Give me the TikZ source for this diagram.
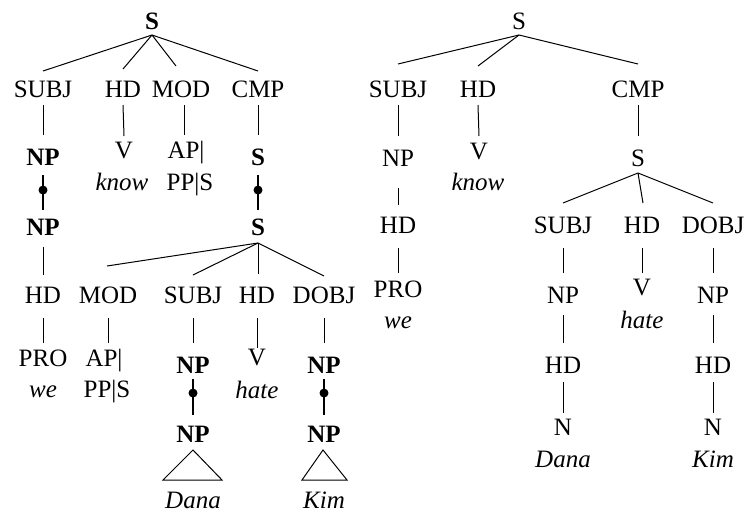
\documentclass[tikz,border=0pt]{standalone}
\usepackage{fontspec}
\setmainfont{Liberation Serif}
\newcommand\fsz{\fontsize{25}{30}\selectfont}
\newcommand\tedge[4]{\draw[br] ([yshift=-#2pt]#1.base) -- ([yshift=#4pt]#3.base);}
\newcommand\sedge[6]{\draw[br] ([xshift=#2pt,yshift=-#3pt]#1.base) -- ([xshift=#5pt,yshift=#6pt]#4.base);}
\newcommand\kedge[5]{\draw[thk] ([yshift=-#2pt]#1.base) -- node[dotn,pos=#5] (#1dot) {} ([yshift=#4pt]#3.base);}
\tikzset{
  lab/.style={anchor=base, inner sep=0pt, font=\fsz},
  bl/.style={lab, font=\fsz\bfseries},
  it/.style={lab, font=\fsz\itshape},
  br/.style={line width=1pt},
  thk/.style={line width=2.5pt},
  dotn/.style={circle, fill=black, inner sep=0pt, minimum size=9pt},
  tri/.style={line width=1pt, line join=miter}
}
\begin{document}
\begin{tikzpicture}[x=1pt,y=-1pt]
\useasboundingbox (0,0) rectangle (747,515);
% ---------- left tree ----------
\node[bl] (ls) at (152,29) {S};
\node[lab] (la1) at (43,97) {SUBJ};
\node[lab] (lb1) at (123,97) {HD};
\node[lab] (lc1) at (181,97) {MOD};
\node[lab] (ld1) at (258,97) {CMP};
\node[bl] (la2) at (43,165) {NP};
\node[lab] (lb2) at (124,158) {V};
\node[it] (lb2w) at (122,190) {know};
\node[lab] (lc2) at (186,158) {AP|};
\node[lab] (lc2w) at (190,190) {PP|S};
\node[bl] (ld2) at (258,165) {S};
\node[bl] (la3) at (43,235) {NP};
\node[bl] (ld3) at (258,235) {S};
\node[lab] (la4) at (43,303) {HD};
\node[lab] (lb4) at (108,303) {MOD};
\node[lab] (lc4) at (193,303) {SUBJ};
\node[lab] (ld4) at (257,303) {HD};
\node[lab] (le4) at (324,303) {DOBJ};
\node[lab] (la5) at (43,366) {PRO};
\node[it] (la5w) at (43,397) {we};
\node[lab] (lb5) at (104,366) {AP|};
\node[lab] (lb5w) at (107,397) {PP|S};
\node[bl] (lc5) at (193,373) {NP};
\node[lab] (ld5) at (257,365) {V};
\node[it] (ld5w) at (257,398) {hate};
\node[bl] (le5) at (324,373) {NP};
\node[bl] (lc6) at (193,442) {NP};
\node[bl] (le6) at (324,442) {NP};
\node[it] (lc7) at (193,508) {Dana};
\node[it] (le7) at (324,508) {Kim};
\tedge{ls}{6}{la1}{26}
\tedge{ls}{6}{lb1}{28}
\sedge{ls}{0}{6}{lc1}{-5}{31}
\tedge{ls}{6}{ld1}{26}
\tedge{la1}{8}{la2}{30}
\tedge{lb1}{8}{lb2}{22}
\sedge{lc1}{3}{8}{lc2}{-2}{23}
\tedge{ld1}{8}{ld2}{30}
\kedge{la2}{10}{la3}{25}{0.43}
\kedge{ld2}{10}{ld3}{25}{0.43}
\tedge{la3}{12}{la4}{28}
\sedge{ld3}{0}{8}{lb4}{-1}{37}
\tedge{ld3}{8}{lc4}{28}
\sedge{ld3}{0}{8}{ld4}{1}{29}
\tedge{ld3}{8}{le4}{27}
\tedge{la4}{15}{la5}{23}
\sedge{lb4}{0}{15}{lb5}{4}{23}
\tedge{lc4}{15}{lc5}{30}
\tedge{ld4}{15}{ld5}{17}
\tedge{le4}{15}{le5}{30}
\kedge{lc5}{6}{lc6}{27}{0.39}
\kedge{le5}{6}{le6}{27}{0.39}
\draw[tri] ([yshift=-8pt]lc6.base) -- ++(-30,30) -- ++(59,0) -- cycle;
\draw[tri] ([xshift=-1pt,yshift=-8pt]le6.base) -- ++(-21,30) -- ++(45,0) -- cycle;
% ---------- right tree ----------
\node[lab] (rs) at (519,29) {S};
\node[lab] (ra1) at (398,97) {SUBJ};
\node[lab] (rb1) at (478,97) {HD};
\node[lab] (rc1) at (638,97) {CMP};
\node[lab] (ra2) at (398,166) {NP};
\node[lab] (rb2) at (479,159) {V};
\node[it] (rb2w) at (478,190) {know};
\node[lab] (rc2) at (638,166) {S};
\node[lab] (ra3) at (398,233) {HD};
\node[lab] (rc3a) at (563,233) {SUBJ};
\node[lab] (rc3b) at (642,233) {HD};
\node[lab] (rc3c) at (713,233) {DOBJ};
\node[lab] (ra4) at (398,297) {PRO};
\node[it] (ra4w) at (398,328) {we};
\node[lab] (rc4a) at (563,303) {NP};
\node[lab] (rc4b) at (642,295) {V};
\node[it] (rc4bw) at (642,328) {hate};
\node[lab] (rc4c) at (713,303) {NP};
\node[lab] (rc5a) at (563,373) {HD};
\node[lab] (rc5c) at (713,373) {HD};
\node[lab] (rc6a) at (563,435) {N};
\node[lab] (rc6c) at (713,435) {N};
\node[it] (rc7a) at (563,467) {Dana};
\node[it] (rc7c) at (713,467) {Kim};
\tedge{rs}{6}{ra1}{33}
\tedge{rs}{6}{rb1}{31}
\tedge{rs}{6}{rc1}{33}
\tedge{ra1}{8}{ra2}{30}
\tedge{rb1}{8}{rb2}{23}
\tedge{rc1}{8}{rc2}{30}
\tedge{ra2}{22}{ra3}{28}
\tedge{rc2}{7}{rc3a}{30}
\sedge{rc2}{0}{7}{rc3b}{1}{30}
\tedge{rc2}{7}{rc3c}{30}
\tedge{ra3}{15}{ra4}{24}
\tedge{rc3a}{15}{rc4a}{30}
\tedge{rc3b}{15}{rc4b}{22}
\tedge{rc3c}{15}{rc4c}{30}
\tedge{rc4a}{12}{rc5a}{30}
\tedge{rc4c}{12}{rc5c}{30}
\tedge{rc5a}{9}{rc6a}{22}
\tedge{rc5c}{9}{rc6c}{22}
\end{tikzpicture}
\end{document}
